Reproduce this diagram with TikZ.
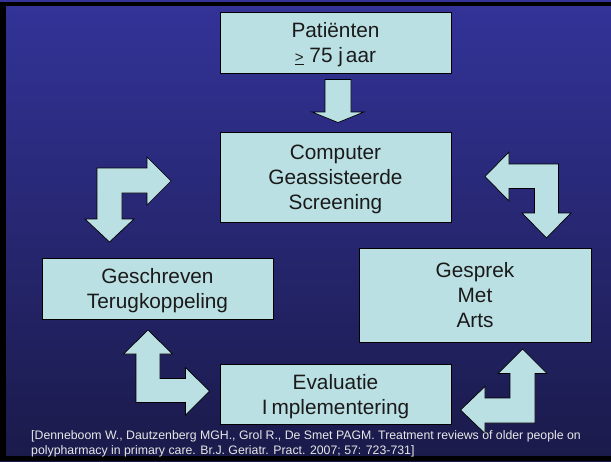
\documentclass[tikz,border=0pt]{standalone}
\usepackage{fontspec}
\setmainfont{Liberation Sans}
\definecolor{bgtop}{HTML}{333399}
\definecolor{bgbot}{HTML}{1A1A4A}
\definecolor{boxfill}{HTML}{BBE0E3}
\definecolor{txt}{HTML}{1A1A1A}
\definecolor{citecol}{HTML}{E8E8E8}
\tikzset{
  stepbox/.style={draw=black, line width=0.8pt, fill=boxfill, align=center, text=txt,
    font=\fontsize{20.8}{25}\selectfont, inner sep=0pt, text depth=0pt},
  blockarrow/.style={draw=black, line width=0.7pt, fill=boxfill, line join=miter},
  citetext/.style={text=citecol, font=\fontsize{12.3}{15}\selectfont, inner sep=0pt, anchor=base west},
}
\begin{document}
\begin{tikzpicture}[x=1pt,y=-1pt]
\useasboundingbox (0,0) rectangle (611,461);
\shade[top color=bgtop, bottom color=bgbot] (0,0) rectangle (611,461);
% frame
\fill[black] (0,2) rectangle (611,6);
\fill[black] (0,3) rectangle (5.5,461);
\fill[black] (0,456) rectangle (611,461);

% boxes
\node[stepbox, minimum width=231pt, minimum height=61pt] (pat) at (335.5,42.5)
  {Patiënten\\{\fontsize{15}{15}\selectfont\underline{>}} 75 j\kern3pt aar};
\node[stepbox, minimum width=231pt, minimum height=90pt] (comp) at (335.5,177)
  {Computer\\Geassisteerde\\Screening};
\node[stepbox, minimum width=231pt, minimum height=61pt] (gesch) at (157.5,288.5)
  {Geschreven\\Terugkoppeling};
\node[stepbox, minimum width=232pt, minimum height=94pt] (gesp) at (475,295)
  {Gesprek\\Met\\Arts};
\node[stepbox, minimum width=231pt, minimum height=60pt] (eval) at (335.5,394)
  {Evaluatie\\I\kern4pt mplementering};

% block arrows
% Patienten -> Computer
\draw[blockarrow] (325,79.5) -- (351,79.5) -- (351,112) -- (364,112) -- (338,122.5)
  -- (312,112) -- (325,112) -- cycle;
% Geschreven <-> Computer (top left)
\draw[blockarrow] (97,168) -- (147,168) -- (147,157) -- (171,181) -- (147,205)
  -- (147,193) -- (122,193) -- (122,219) -- (134,219) -- (109.5,242)
  -- (85,219) -- (97,219) -- cycle;
% Computer <-> Gesprek (top right)
\draw[blockarrow] (485,176.5) -- (509,152) -- (509,164) -- (558.5,164) -- (558.5,213)
  -- (571,213) -- (546.5,238) -- (522,213) -- (534.5,213) -- (534.5,188.5)
  -- (509,188.5) -- (509,201) -- cycle;
% Geschreven <-> Evaluatie (bottom left)
\draw[blockarrow] (148,330) -- (172.5,354) -- (160,354) -- (160,378.5) -- (185.5,378.5)
  -- (185.5,367.5) -- (209.5,391) -- (185.5,415) -- (185.5,402.5) -- (136,402.5)
  -- (136,354) -- (123.5,354) -- cycle;
% Evaluatie <-> Gesprek (bottom right)
\draw[blockarrow] (522.5,349) -- (547,373.5) -- (535,373.5) -- (535,423) -- (485,423)
  -- (485,433.5) -- (460.5,410) -- (485,386.5) -- (485,398) -- (510,398)
  -- (510,373.5) -- (498,373.5) -- cycle;

% citation
\node[citetext] (cite1) at (31,439.3)
  {[Denneboom W., Dautzenberg MGH., Grol R., De Smet PAGM. Treatment reviews of older people on};
\node[citetext] (cite2) at (31,454.3)
  {polypharmacy in primary care. Br.J. Geriatr. Pract. 2007; 57: 723-731]};
\end{tikzpicture}
\end{document}
